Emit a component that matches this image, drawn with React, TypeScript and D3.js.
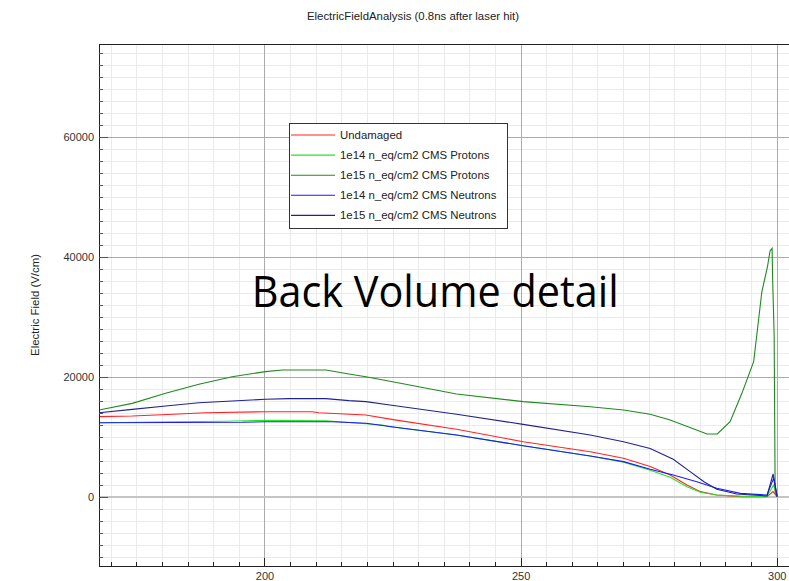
import React from "react";
import * as d3 from "d3";

const W = 789;
const H = 581;
const plot = { left: 99, top: 44, right: 789, bottom: 566 };

const xDomain: [number, number] = [167.6, 302.3];
const yDomain: [number, number] = [-11500, 75500];

const xMajorTicks = [200, 250, 300];
const yMajorTicks = [0, 20000, 40000, 60000];

const chartTitle = "ElectricFieldAnalysis (0.8ns after laser hit)";
const yAxisTitle = "Electric Field (V/cm)";
const overlayText = "Back Volume detail";

// depth (µm), field (V/cm)
const undamaged: [number, number][] = [
  [167.6, 13390], [174.1, 13500], [183.2, 13830], [188.4, 14050], [200.1, 14220],
  [209.2, 14220], [210.5, 14050], [219.7, 13670], [225.0, 12900], [237.4, 11280],
  [250.4, 9220], [263.5, 7550], [270.0, 6450], [275.2, 5100], [279.1, 3670],
  [282.4, 2000], [285.0, 890], [288.2, 330], [292.8, 50], [298.0, 50],
  [299.2, 900], [300.0, 0],
];

const protons1e14: [number, number][] = [
  [167.6, 12380], [182.6, 12550], [192.3, 12620], [200.1, 12780], [211.9, 12720],
  [217.1, 12380], [222.9, 12000], [224.4, 11720], [237.4, 10330], [250.4, 8550],
  [263.5, 6830], [270.0, 5800], [275.2, 4450], [279.1, 3280], [282.4, 1720],
  [285.0, 780], [288.2, 330], [292.8, 150], [298.0, 100], [299.3, 2000],
  [300.0, 0],
];

const protons1e15: [number, number][] = [
  [167.6, 14500], [174.1, 15600], [180.6, 17300], [187.1, 18800], [193.6, 20050],
  [200.1, 20900], [203.4, 21170], [211.9, 21170], [216.4, 20500], [219.7, 20050],
  [224.4, 19300], [237.4, 17170], [250.4, 15890], [263.5, 15050], [270.0, 14500],
  [275.2, 13780], [279.1, 12830], [286.3, 10500], [288.3, 10500], [290.8, 12550],
  [293.1, 17280], [295.4, 22550], [297.0, 34200], [298.1, 38400], [298.6, 41000],
  [299.0, 41450], [299.1, 36500], [299.4, 27000], [299.6, 600], [300.0, 100],
];

const neutrons1e14: [number, number][] = [
  [167.6, 12380], [195.6, 12450], [200.1, 12550], [213.1, 12550], [219.7, 12280],
  [226.2, 11550], [237.4, 10330], [250.4, 8550], [263.5, 6830], [270.0, 5890],
  [275.2, 4610], [279.7, 3670], [284.3, 2550], [288.2, 1450], [292.8, 610],
  [298.0, 330], [299.3, 3110], [300.0, 50],
];

const neutrons1e15: [number, number][] = [
  [167.6, 14050], [174.1, 14600], [180.6, 15170], [187.1, 15720], [193.6, 16000],
  [200.1, 16280], [204.7, 16390], [211.9, 16390], [216.4, 16060], [219.7, 15890],
  [224.4, 15330], [237.4, 13780], [250.4, 12110], [263.5, 10330], [270.0, 9220],
  [275.2, 8100], [279.7, 6280], [283.0, 4220], [285.7, 2550], [288.2, 1280],
  [292.1, 500], [298.0, 170], [299.2, 3830], [300.0, 50],
];

const seriesNames = [
  "Undamaged",
  "1e14 n_eq/cm2 CMS Protons",
  "1e15 n_eq/cm2 CMS Protons",
  "1e14 n_eq/cm2 CMS Neutrons",
  "1e15 n_eq/cm2 CMS Neutrons",
];
const seriesColors = ["#ff2424", "#22e622", "#1f8a1f", "#1a1aff", "#22228f"];
const seriesData = [undamaged, protons1e14, protons1e15, neutrons1e14, neutrons1e15];

const FONT = "'Liberation Sans', Arial, sans-serif";
const FS = 11.4;

export default function App() {
  const x = d3.scaleLinear().domain(xDomain).range([plot.left, plot.right]);
  const y = d3.scaleLinear().domain(yDomain).range([plot.bottom, plot.top]);

  const xMinor = d3.range(170, xDomain[1], 5).filter((v) => !xMajorTicks.includes(v));
  const yMinor = d3.range(-10000, yDomain[1], 2000).filter((v) => !yMajorTicks.includes(v));

  const line = d3
    .line<[number, number]>()
    .x((d) => x(d[0]))
    .y((d) => y(d[1]));

  const legendX = 289.5;
  const legendY = 123.5;
  const legendRows = seriesNames.map((_, i) => 135 + i * 20.1);

  return (
    <svg
      width={W}
      height={H}
      style={{ position: "absolute", left: 0, top: 0, display: "block", background: "#fff" }}
    >
      <defs>
        <clipPath id="plot-clip">
          <rect x={plot.left} y={plot.top} width={plot.right - plot.left} height={plot.bottom - plot.top} />
        </clipPath>
      </defs>
      <rect x={0} y={0} width={W} height={H} fill="#fff" />

      {/* minor grid */}
      <g stroke="#ebebeb" strokeWidth={1} shapeRendering="crispEdges">
        {xMinor.map((v) => (
          <line key={`xm${v}`} x1={x(v)} x2={x(v)} y1={plot.top} y2={plot.bottom} />
        ))}
        {yMinor.map((v) => (
          <line key={`ym${v}`} x1={plot.left} x2={plot.right} y1={y(v)} y2={y(v)} />
        ))}
      </g>
      {/* major grid */}
      <g stroke="#ababab" strokeWidth={1} shapeRendering="crispEdges">
        {xMajorTicks.map((v) => (
          <line key={`xM${v}`} x1={x(v)} x2={x(v)} y1={plot.top} y2={plot.bottom} />
        ))}
        {yMajorTicks.map((v) => (
          <line key={`yM${v}`} x1={plot.left} x2={plot.right} y1={y(v)} y2={y(v)} stroke={v === 0 ? "#c4c4c4" : "#ababab"} strokeWidth={v === 0 ? 2 : 1} />
        ))}
      </g>

      {/* series */}
      <g clipPath="url(#plot-clip)" fill="none">
        {seriesData.map((d, i) => (
          <path key={seriesNames[i]} d={line(d) || ""} stroke={seriesColors[i]} strokeWidth={1.1} />
        ))}
      </g>

      {/* axes */}
      <g stroke="#222" strokeWidth={1} shapeRendering="crispEdges">
        <line x1={plot.left} x2={plot.left} y1={plot.top} y2={plot.bottom} />
        <line x1={plot.left} x2={plot.right} y1={plot.bottom} y2={plot.bottom} />
        <line x1={plot.left} x2={plot.right} y1={plot.top} y2={plot.top} />
        {yMinor.map((v) => (
          <line key={`yt${v}`} x1={plot.left} x2={plot.left + 4} y1={y(v)} y2={y(v)} stroke="#555" />
        ))}
        {yMajorTicks.map((v) => (
          <line key={`yT${v}`} x1={plot.left} x2={plot.left + 9} y1={y(v)} y2={y(v)} stroke="#555" />
        ))}
        {xMinor.map((v) => (
          <line key={`xt${v}`} x1={x(v)} x2={x(v)} y1={plot.bottom} y2={plot.bottom - 4} />
        ))}
        {xMajorTicks.map((v) => (
          <line key={`xT${v}`} x1={x(v)} x2={x(v)} y1={plot.bottom} y2={plot.bottom - 8} />
        ))}
      </g>

      {/* tick labels */}
      <g fontFamily={FONT} fontSize={11} fill="#333">
        {yMajorTicks.map((v) => (
          <text key={`yl${v}`} x={94} y={y(v) + 4} textAnchor="end">
            {v}
          </text>
        ))}
        {xMajorTicks.map((v) => (
          <text key={`xl${v}`} x={x(v)} y={580} textAnchor="middle">
            {v}
          </text>
        ))}
      </g>

      <text x={413} y={20} textAnchor="middle" fontFamily={FONT} fontSize={FS} fill="#222">
        {chartTitle}
      </text>
      <text
        transform={`translate(39, ${(plot.top + plot.bottom) / 2}) rotate(-90)`}
        textAnchor="middle"
        fontFamily={FONT}
        fontSize={FS}
        fill="#222"
      >
        {yAxisTitle}
      </text>

      {/* legend */}
      <g>
        <rect x={legendX} y={legendY} width={218} height={105} fill="#fff" stroke="#333" strokeWidth={1} />
        {seriesNames.map((name, i) => (
          <g key={name}>
            <line x1={291} x2={335} y1={legendRows[i]} y2={legendRows[i]} stroke={seriesColors[i]} strokeWidth={1.1} />
            <text x={340} y={legendRows[i] + 4} fontFamily={FONT} fontSize={FS} fill="#222">
              {name}
            </text>
          </g>
        ))}
      </g>

      <text
        x={251.7}
        y={306.7}
        fontFamily="'Open Sans', 'Noto Sans', sans-serif"
        fontSize={44}
        fill="#000"
        textLength={367}
        lengthAdjust="spacingAndGlyphs"
      >
        {overlayText}
      </text>
    </svg>
  );
}
